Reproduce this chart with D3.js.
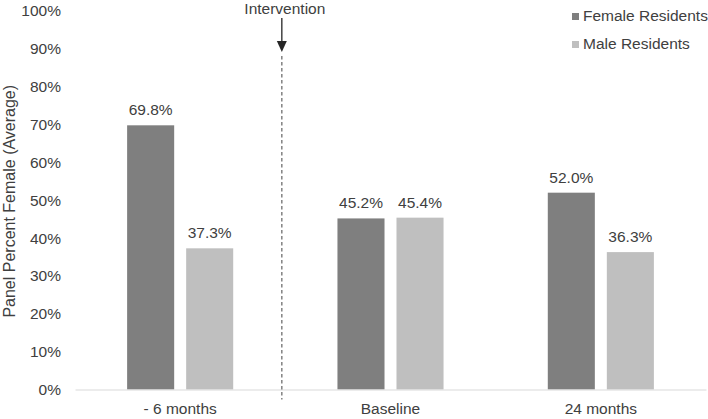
<!DOCTYPE html>
<html>
<head>
<meta charset="utf-8">
<script src="https://cdn.jsdelivr.net/npm/d3@7"></script>
<style>
  body { margin: 0; background: #fff; }
  text { font-family: "Liberation Sans", Arial, sans-serif; fill: #404040; }
</style>
</head>
<body>
<div id="chart"></div>
<script>
// chart values
const periods = ["- 6 months", "Baseline", "24 months"];
const seriesNames = ["Female Residents", "Male Residents"];
const femaleValues = [69.8, 45.2, 52.0];
const maleValues = [37.3, 45.4, 36.3];
const yTicks = [0, 10, 20, 30, 40, 50, 60, 70, 80, 90, 100];
const interventionLabel = "Intervention";
const yTitle = "Panel Percent Female (Average)";

const colors = { "Female Residents": "#7f7f7f", "Male Residents": "#bfbfbf" };

const width = 708;
const height = 419;
const margin = { top: 11, right: 2, bottom: 29.5, left: 75 };
const fontSize = "15.5px";

const data = periods.map((p, i) => ({
    period: p,
    values: [
        { name: seriesNames[0], value: femaleValues[i] },
        { name: seriesNames[1], value: maleValues[i] }
    ]
}));

const x = d3.scaleBand()
    .domain(periods)
    .range([margin.left, width - margin.right])
    .padding(0);

const xSub = d3.scaleBand()
    .domain(seriesNames)
    .range([0, x.bandwidth()])
    .paddingInner(0.203)
    .paddingOuter(0.883);

const y = d3.scaleLinear()
    .domain([0, 100])
    .range([height - margin.bottom, margin.top]);

const svg = d3.select("#chart").append("svg")
    .attr("width", width)
    .attr("height", height)
    .style("display", "block");

// y axis labels (no line)
svg.append("g")
    .attr("transform", `translate(61,0)`)
    .call(d3.axisLeft(y).tickValues(yTicks).tickFormat(d => d + "%").tickSize(0).tickPadding(0))
    .call(g => g.select(".domain").remove())
    .call(g => g.selectAll("text")
        .style("font-size", fontSize)
        .attr("fill", "#404040"));

// y title
svg.append("text")
    .attr("transform", `translate(15,${(y(0) + y(100)) / 2 + 1}) rotate(-90)`)
    .attr("text-anchor", "middle")
    .style("font-size", "16px")
    .text(yTitle);

// bars
const groups = svg.append("g")
    .selectAll("g")
    .data(data)
    .join("g")
    .attr("transform", d => `translate(${x(d.period)},0)`);

groups.selectAll("rect")
    .data(d => d.values)
    .join("rect")
    .attr("x", d => xSub(d.name))
    .attr("y", d => y(d.value))
    .attr("width", xSub.bandwidth())
    .attr("height", d => y(0) - y(d.value))
    .attr("fill", d => colors[d.name]);

groups.selectAll("text.val")
    .data(d => d.values)
    .join("text")
    .attr("class", "val")
    .attr("x", d => xSub(d.name) + xSub.bandwidth() / 2)
    .attr("y", d => y(d.value) - 10)
    .attr("text-anchor", "middle")
    .style("font-size", fontSize)
    .text(d => d.value.toFixed(1) + "%");

// x axis
svg.append("g")
    .attr("transform", `translate(0,${y(0)})`)
    .call(d3.axisBottom(x).tickSize(0).tickPadding(13))
    .call(g => g.select(".domain").attr("stroke", "#d9d9d9").attr("stroke-width", 1.2))
    .call(g => g.selectAll("text")
        .style("font-size", fontSize)
        .attr("fill", "#404040"));

// intervention marker, between first and second period
const ix = x(periods[1]) - 3.5;
svg.append("line")
    .attr("x1", ix).attr("x2", ix)
    .attr("y1", 56).attr("y2", y(0) + 10)
    .attr("stroke", "#6f6f6f")
    .attr("stroke-width", 1.3)
    .attr("stroke-dasharray", "3.5,2.5");

svg.append("line")
    .attr("x1", ix).attr("x2", ix)
    .attr("y1", 18).attr("y2", 43)
    .attr("stroke", "#262626")
    .attr("stroke-width", 1.3);

svg.append("path")
    .attr("d", `M${ix - 5},41 L${ix + 5},41 L${ix},52 Z`)
    .attr("fill", "#262626");

svg.append("text")
    .attr("x", ix + 3)
    .attr("y", 14)
    .attr("text-anchor", "middle")
    .style("font-size", fontSize)
    .text(interventionLabel);

// legend
const legend = svg.append("g")
    .attr("transform", "translate(572,13)")
    .selectAll("g")
    .data(seriesNames)
    .join("g")
    .attr("transform", (d, i) => `translate(0,${i * 28})`);

legend.append("rect")
    .attr("width", 7)
    .attr("height", 7)
    .attr("fill", d => colors[d]);

legend.append("text")
    .attr("x", 11)
    .attr("y", 8)
    .style("font-size", fontSize)
    .text(d => d);
</script>
</body>
</html>
